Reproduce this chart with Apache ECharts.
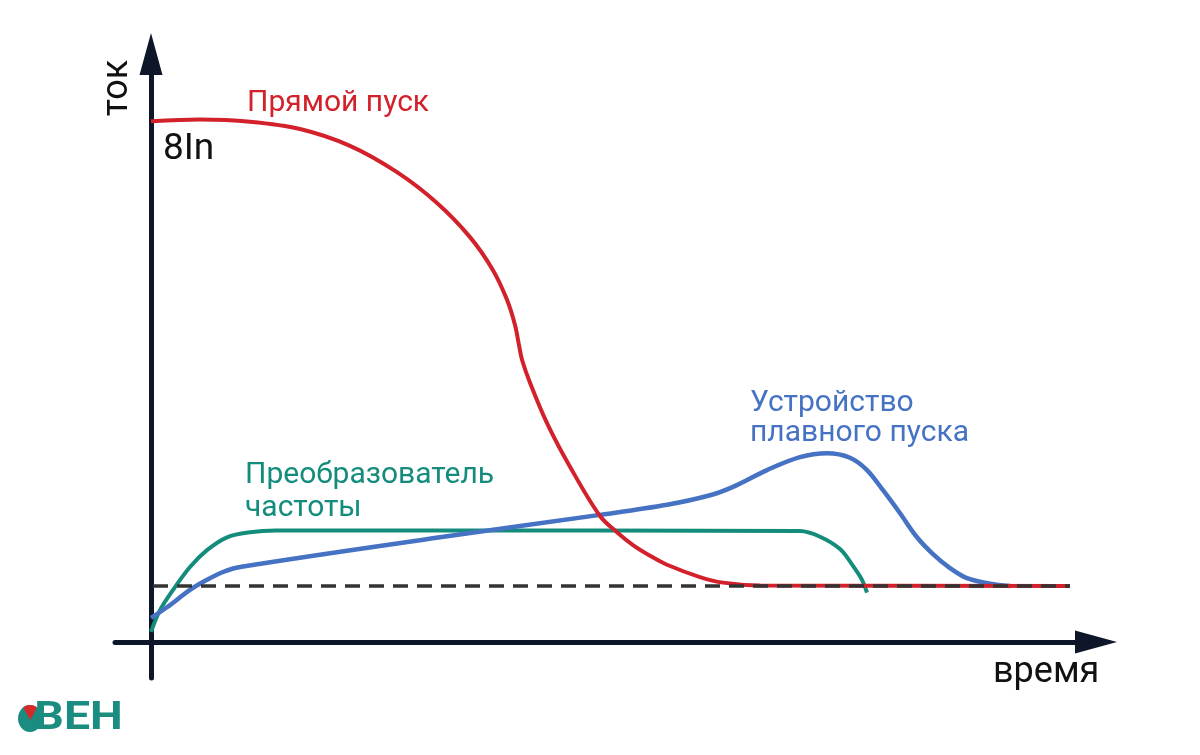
<!DOCTYPE html>
<html>
<head>
<meta charset="utf-8">
<script src="https://cdn.jsdelivr.net/npm/echarts@6/dist/echarts.min.js"></script>
<style>
html,body{margin:0;padding:0;background:#fff;}
#chart{width:1200px;height:755px;}
</style>
</head>
<body>
<div id="chart"></div>
<script>
// Schematic starting-current curves: [time, current in units of In]
const directStart = [
  [0, 9.30], [4.9, 9.33], [9.9, 9.29], [14.9, 9.16], [19.9, 8.86], [24.6, 8.39],
  [28.6, 7.84], [31.9, 7.23], [34.2, 6.64], [35.6, 6.11], [36.4, 5.66], [36.8, 5.30],
  [37.1, 5.04], [37.9, 4.63], [39.6, 3.91], [41.9, 3.13], [44.9, 2.25], [46.6, 1.96],
  [48.2, 1.73], [49.9, 1.54], [51.6, 1.38], [54.9, 1.16], [57.2, 1.06], [60.9, 1.01],
  [91.9, 1.00]
];
const freqConverter = [
  [0, 0.18], [0.9, 0.57], [2.2, 0.93], [3.9, 1.34], [5.6, 1.64], [7.6, 1.87],
  [9.9, 1.96], [12.5, 1.99], [28.9, 1.99], [44.9, 1.99], [64.9, 1.98], [66.9, 1.88],
  [68.9, 1.66], [70.2, 1.36], [71.1, 1.11], [71.6, 0.88]
];
const softStarter = [
  [0, 0.43], [1.6, 0.62], [3.9, 0.93], [5.6, 1.11], [7.2, 1.25], [8.9, 1.34],
  [28.9, 1.87], [44.9, 2.27], [51.6, 2.45], [55.9, 2.62], [58.2, 2.77], [61.6, 3.07],
  [64.9, 3.30], [67.6, 3.37], [69.9, 3.29], [71.6, 3.07], [73.2, 2.71], [74.9, 2.30],
  [76.6, 1.87], [78.2, 1.57], [79.9, 1.32], [81.6, 1.14], [83.9, 1.04], [85.9, 1.00]
];
const nominalLine = [[0.2, 1], [91.9, 1]];

const seriesNames = ['Прямой пуск', 'Преобразователь частоты', 'Устройство плавного пуска'];
const axisNames = { x: 'время', y: 'ток' };
const markLabel = '8In';

const AXIS = '#0d1729';
const RED = '#d2212a';
const GREEN = '#148c7c';
const BLUE = '#4672c4';
const FONT = 'Roboto';

const chart = echarts.init(document.getElementById('chart'), null, { renderer: 'canvas' });

function axisCommon(min, max) {
  return {
    type: 'value', min: min, max: max,
    axisLine: { show: true, onZero: true, symbol: ['none', 'triangle'], symbolSize: [23, 42],
      lineStyle: { color: AXIS, width: 5 } },
    axisTick: { show: false }, axisLabel: { show: false }, splitLine: { show: false }
  };
}

// logo ellipse + wedge
const lcx = 30, lcy = 718.5, lrx = 12, lry = 13.5;
const wedge = [[lcx + 0.5, lcy + 1.5]];
for (let a = -125; a <= -55; a += 5) {
  const r = a * Math.PI / 180;
  wedge.push([lcx + lrx * Math.cos(r), lcy + lry * Math.sin(r)]);
}

function txt(x, y, text, size, color) {
  return {
    type: 'text', x: x, y: y, z: 100,
    style: { text: text, fill: color, font: size + 'px ' + FONT, align: 'left', verticalAlign: 'middle' }
  };
}

const lineCommon = { type: 'line', showSymbol: false, smooth: 0.35 };

chart.setOption({
  animation: false,
  backgroundColor: '#ffffff',
  grid: { left: 115, right: 104, top: 54, bottom: 77, containLabel: false },
  xAxis: axisCommon(-3.6, 94.5),
  yAxis: axisCommon(-0.642857, 10.5),
  series: [
    Object.assign({ name: seriesNames[1], data: freqConverter, lineStyle: { color: GREEN, width: 4 }, z: 2 }, lineCommon),
    Object.assign({ name: seriesNames[2], data: softStarter, lineStyle: { color: BLUE, width: 4.5 }, z: 3 }, lineCommon),
    Object.assign({ name: seriesNames[0], data: directStart, lineStyle: { color: RED, width: 4 }, z: 4 }, lineCommon),
    { name: 'In', type: 'line', data: nominalLine, showSymbol: false,
      lineStyle: { color: '#333333', width: 3.5, type: [15, 9] }, z: 5 }
  ],
  graphic: [
    txt(247, 103, seriesNames[0], 30, RED),
    txt(163, 150, markLabel, 37, '#111111'),
    txt(245, 475, 'Преобразователь', 30, GREEN),
    txt(245, 508, 'частоты', 30, GREEN),
    txt(750, 403, 'Устройство', 30, BLUE),
    txt(750, 433, 'плавного пуска', 30, BLUE),
    txt(993, 673, axisNames.x, 36, '#111111'),
    { type: 'text', x: 118, y: 88, rotation: Math.PI / 2, z: 100,
      style: { text: axisNames.y, fill: '#111111', font: '36px ' + FONT, align: 'center', verticalAlign: 'middle' } },
    { type: 'ellipse', shape: { cx: lcx, cy: lcy, rx: lrx, ry: lry }, style: { fill: '#1a8c80' }, z: 100 },
    { type: 'polygon', shape: { points: wedge }, style: { fill: '#d42a2a' }, z: 101 },
    { type: 'text', x: 44, y: 719, z: 100, scaleX: 1.22, originX: 44, originY: 719,
      style: { text: 'ВЕН', fill: '#1a8c80', font: 'bold 38px ' + FONT, align: 'left', verticalAlign: 'middle' } }
  ]
});
</script>
</body>
</html>
